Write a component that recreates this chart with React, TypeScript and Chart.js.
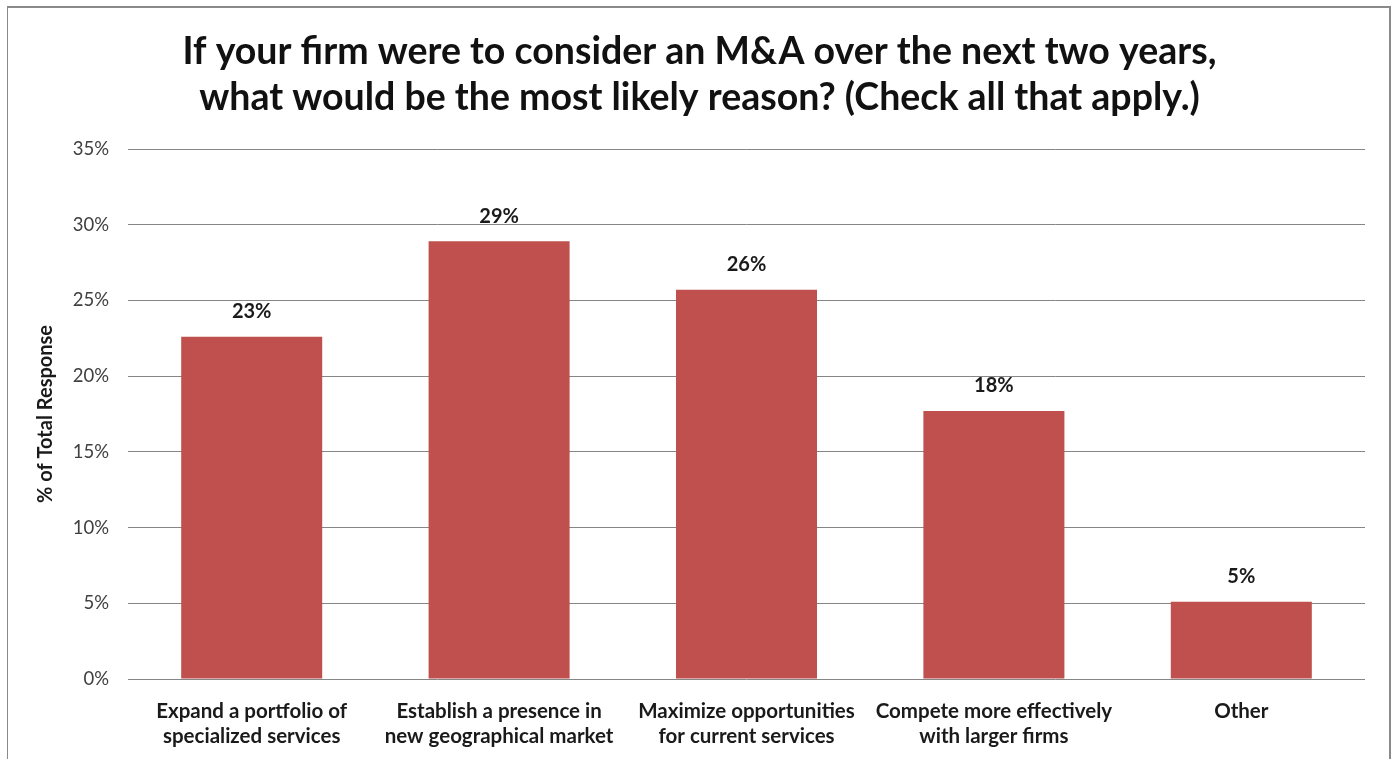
import React, { useEffect, useRef } from "react";
import Chart from "chart.js/auto";

const titleLines = [
  "If your firm were to consider an M&A over the next two years,",
  "what would be the most likely reason? (Check all that apply.)",
];
const categories = [
  ["Expand a portfolio of", "specialized services"],
  ["Establish a presence in", "new geographical market"],
  ["Maximize opportunities", "for current services"],
  ["Compete more effectively", "with larger firms"],
  ["Other"],
];
const values = [22.6, 28.9, 25.7, 17.7, 5.1];
const valueLabels = ["23%", "29%", "26%", "18%", "5%"];
const yAxisTitle = "% of Total Response";
const yMin = 0;
const yMax = 35;
const yStep = 5;

const FONT = "Lato, 'Open Sans', sans-serif";

const valueLabelPlugin = {
  id: "valueLabels",
  afterDatasetsDraw(chart: any) {
    const ctx = chart.ctx;
    const meta = chart.getDatasetMeta(0);
    ctx.save();
    ctx.font = `bold 20px ${FONT}`;
    ctx.fillStyle = "#1a1a1a";
    ctx.textAlign = "center";
    ctx.textBaseline = "middle";
    meta.data.forEach((bar: any, i: number) => {
      ctx.fillText(valueLabels[i], bar.x, bar.y - 25);
    });
    ctx.restore();
  },
};

export default function App() {
  const ref = useRef<HTMLCanvasElement>(null);
  useEffect(() => {
    document.body.style.margin = "0";
    const chart = new Chart(ref.current!, {
      type: "bar",
      data: {
        labels: categories,
        datasets: [
          {
            data: values,
            backgroundColor: "#C0504D",
            borderWidth: 0,
            categoryPercentage: 1,
            barPercentage: 0.57,
          },
        ],
      },
      options: {
        responsive: false,
        animation: false,
        layout: { padding: { left: 34, right: 27, top: 0, bottom: 0 } },
        plugins: {
          legend: { display: false },
          tooltip: { enabled: false },
          title: {
            display: true,
            text: titleLines,
            color: "#111111",
            font: { family: FONT, size: 37.5, weight: "bold", lineHeight: 1.22 },
            padding: { top: 29, bottom: 28.5 },
          },
        },
        scales: {
          x: {
            grid: { display: false },
            border: { display: false },
            ticks: {
              color: "#1a1a1a",
              font: { family: FONT, size: 20.5, weight: "bold", lineHeight: 1.22 },
              padding: 12,
              maxRotation: 0,
              autoSkip: false,
            },
            afterFit(scale: any) {
              scale.height = 80;
            },
          },
          y: {
            min: yMin,
            max: yMax,
            grid: { color: "#868686", lineWidth: 1, drawTicks: false },
            border: { display: false },
            ticks: {
              stepSize: yStep,
              color: "#404040",
              padding: 19,
              font: { family: FONT, size: 18.5 },
              callback: (v: any) => `${v}%`,
            },
            title: {
              display: true,
              text: yAxisTitle,
              color: "#1a1a1a",
              font: { family: FONT, size: 20, weight: "bold", lineHeight: 1.2 },
              padding: { top: 0, bottom: 0 },
            },
            afterFit(scale: any) {
              scale.width = 128 - 34;
            },
          },
        },
      },
      plugins: [valueLabelPlugin],
    });
    return () => chart.destroy();
  }, []);
  return (
    <div style={{ position: "relative", width: 1392, height: 759, overflow: "hidden", background: "#fff" }}>
      <canvas ref={ref} width={1392} height={759} style={{ position: "absolute", left: 0, top: 0 }} />
      <div
        style={{
          position: "absolute",
          left: 7,
          top: 6,
          width: 1381,
          height: 800,
          borderLeft: "1px solid #8a8a8a",
          borderTop: "2px solid #8a8a8a",
          borderRight: "2px solid #8a8a8a",
          pointerEvents: "none",
        }}
      />
    </div>
  );
}
